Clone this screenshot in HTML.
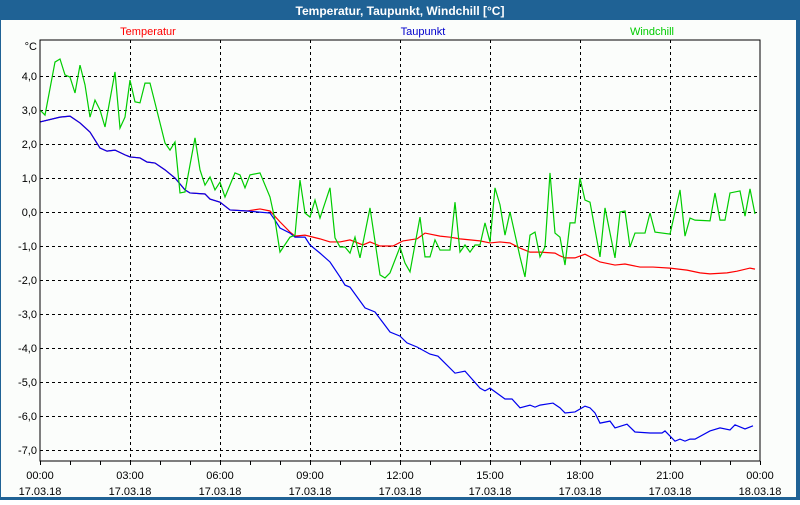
<!DOCTYPE html>
<html><head><meta charset="utf-8"><style>
body{margin:0;width:800px;height:500px;overflow:hidden;background:#fff;font-family:"Liberation Sans",sans-serif}
svg text{font-family:"Liberation Sans",sans-serif}
</style></head><body>
<svg id="c" width="800" height="500">
<rect x="0" y="0" width="800" height="500" fill="#1f6295"/>
<rect x="1" y="20" width="795" height="477" fill="#fbfdfb"/>
<text x="400" y="15" text-anchor="middle" fill="#fff" font-size="12" font-weight="bold">Temperatur, Taupunkt, Windchill [°C]</text>
<text x="148" y="35" text-anchor="middle" fill="#f00" font-size="11">Temperatur</text>
<text x="423" y="35" text-anchor="middle" fill="#00c" font-size="11">Taupunkt</text>
<text x="652" y="35" text-anchor="middle" fill="#0c0" font-size="11">Windchill</text>
<text x="37" y="50" text-anchor="end" font-size="11">°C</text>
<g id="grid"></g><g id="series"></g>
<rect x="40" y="40" width="720" height="421" fill="none" stroke="#000" stroke-width="1"/>
</svg>
<script>
const yTicks=[4,3,2,1,0,-1,-2,-3,-4,-5,-6,-7];
const yTickLabels=["4,0","3,0","2,0","1,0","0,0","-1,0","-2,0","-3,0","-4,0","-5,0","-6,0","-7,0"];
const xTickHours=[0,3,6,9,12,15,18,21,24];
const xTickTimes=["00:00","03:00","06:00","09:00","12:00","15:00","18:00","21:00","00:00"];
const xTickDates=["17.03.18","17.03.18","17.03.18","17.03.18","17.03.18","17.03.18","17.03.18","17.03.18","18.03.18"];
const blueMin=[0,40,60,80,100,120,134,150,170,180,200,214,230,250,270,290,300,330,340,360,380,414,460,470,480,500,510,530,540,560,580,600,610,620,650,670,700,720,734,754,780,796,830,850,880,890,900,930,944,960,980,990,1000,1026,1040,1050,1070,1090,1100,1110,1120,1140,1150,1174,1190,1220,1244,1250,1270,1280,1290,1300,1310,1340,1360,1380,1390,1410,1426];
const blueVal=[2.65,2.79,2.82,2.62,2.35,1.88,1.79,1.82,1.68,1.62,1.59,1.47,1.44,1.24,1.0,0.65,0.56,0.53,0.38,0.29,0.06,0.03,-0.03,-0.24,-0.47,-0.62,-0.74,-0.74,-0.97,-1.21,-1.47,-1.91,-2.15,-2.21,-2.82,-2.94,-3.53,-3.65,-3.85,-3.97,-4.18,-4.24,-4.74,-4.68,-5.18,-5.26,-5.18,-5.5,-5.5,-5.76,-5.68,-5.74,-5.68,-5.62,-5.76,-5.91,-5.88,-5.71,-5.76,-5.91,-6.21,-6.15,-6.35,-6.24,-6.47,-6.5,-6.5,-6.44,-6.74,-6.68,-6.74,-6.68,-6.68,-6.44,-6.35,-6.41,-6.26,-6.38,-6.29];
const redMin=[0,40,60,80,100,120,134,150,170,180,200,214,230,250,270,290,300,330,340,360,380,414,440,460,480,500,510,530,560,580,600,620,646,660,680,706,726,754,770,800,820,840,860,880,900,920,940,960,980,1000,1030,1040,1050,1070,1090,1120,1150,1170,1200,1226,1260,1294,1320,1340,1374,1394,1420,1430];
const redVal=[2.65,2.79,2.82,2.62,2.35,1.88,1.79,1.82,1.68,1.62,1.59,1.47,1.44,1.24,1.0,0.65,0.56,0.53,0.38,0.29,0.06,0.03,0.09,0.03,-0.29,-0.59,-0.71,-0.68,-0.79,-0.88,-0.88,-0.82,-0.97,-0.88,-1.0,-1.0,-0.85,-0.79,-0.62,-0.71,-0.74,-0.79,-0.82,-0.85,-0.91,-0.88,-0.91,-1.06,-1.18,-1.18,-1.21,-1.29,-1.35,-1.35,-1.24,-1.47,-1.56,-1.53,-1.62,-1.62,-1.65,-1.71,-1.79,-1.82,-1.79,-1.74,-1.65,-1.68];
const greenMin=[0,10,30,40,50,60,70,80,90,100,110,120,130,150,160,170,180,190,200,210,220,230,250,260,270,280,290,310,320,330,340,350,360,370,390,400,410,420,440,460,470,480,500,510,520,530,540,550,560,580,590,600,610,620,630,640,660,680,690,700,720,730,740,760,770,780,790,800,820,830,840,850,860,870,880,890,900,910,920,930,940,960,970,980,990,1000,1010,1020,1030,1040,1050,1060,1070,1080,1090,1100,1120,1130,1150,1160,1170,1180,1190,1210,1220,1230,1260,1280,1290,1300,1310,1340,1350,1360,1370,1380,1400,1410,1420,1430];
const greenVal=[3.0,2.85,4.41,4.5,4.03,3.97,3.5,4.32,3.74,2.79,3.29,3.0,2.5,4.12,2.47,2.79,3.88,3.24,3.21,3.79,3.79,3.21,2.03,1.82,2.06,0.56,0.59,2.18,1.24,0.79,1.03,0.65,0.88,0.44,1.15,1.09,0.71,1.09,1.15,0.44,-0.24,-1.18,-0.74,-0.68,0.94,-0.03,-0.15,0.35,-0.18,0.71,-0.76,-1.03,-1.03,-1.21,-0.74,-1.35,0.12,-1.85,-1.94,-1.79,-1.03,-1.5,-1.76,-0.15,-1.32,-1.32,-0.82,-1.12,-1.12,0.29,-1.18,-0.97,-1.18,-0.97,-0.97,-0.32,-0.88,0.71,0.21,-0.68,0.0,-1.32,-1.91,-0.68,-0.59,-1.32,-1.03,1.15,-0.62,-0.74,-1.56,-0.32,-0.32,1.0,0.35,0.29,-1.32,0.12,-1.35,0.0,0.03,-1.03,-0.62,-0.62,-0.03,-0.59,-0.65,0.65,-0.71,-0.18,-0.24,-0.26,0.56,-0.24,-0.24,0.56,0.62,-0.12,0.68,-0.06];
const NS='http://www.w3.org/2000/svg';
const X=m=>40+m*720/1440;
const Y=v=>212-v*34;
const grid=document.getElementById('grid'), ser=document.getElementById('series');
function mk(tag,attrs,parent){const e=document.createElementNS(NS,tag);for(const k in attrs)e.setAttribute(k,attrs[k]);parent.appendChild(e);return e;}
yTicks.forEach((v,i)=>{
  const l=mk('line',{x1:40,x2:760,y1:Y(v)+0.5,y2:Y(v)+0.5,stroke:'#000','stroke-dasharray':'3,3'},grid);
  
  
  const t=mk('text',{x:37,y:Y(v)+4,'text-anchor':'end','font-size':11},grid);
  t.textContent=yTickLabels[i];
  
  
});
for(let h=0;h<=24;h++){
  const tk=mk('line',{x1:X(h*60)+0.5,x2:X(h*60)+0.5,y1:461,y2:465,stroke:'#000'},grid);
  
  
}
xTickHours.forEach((h,i)=>{
  if(h>0&&h<24){const l=mk('line',{x1:X(h*60)+0.5,x2:X(h*60)+0.5,y1:40,y2:461,stroke:'#000','stroke-dasharray':'3,3'},grid);
  
  }
  const t=mk('text',{x:X(h*60),y:479,'text-anchor':'middle','font-size':11},grid);
  t.textContent=xTickTimes[i];
  
  
  const d=mk('text',{x:X(h*60),y:495,'text-anchor':'middle','font-size':11},grid);
  d.textContent=xTickDates[i];
  
  
});
function line(ms,vs,col,name){
  const p=mk('polyline',{points:ms.map((m,i)=>X(m)+','+Y(vs[i])).join(' '),fill:'none',stroke:col,'stroke-width':1.2},ser);
  
  
}
line(redMin,redVal,'#f00','temperatur-line');
line(blueMin,blueVal,'#00e','taupunkt-line');
line(greenMin,greenVal,'#0c0','windchill-line');
</script>
</body></html>
